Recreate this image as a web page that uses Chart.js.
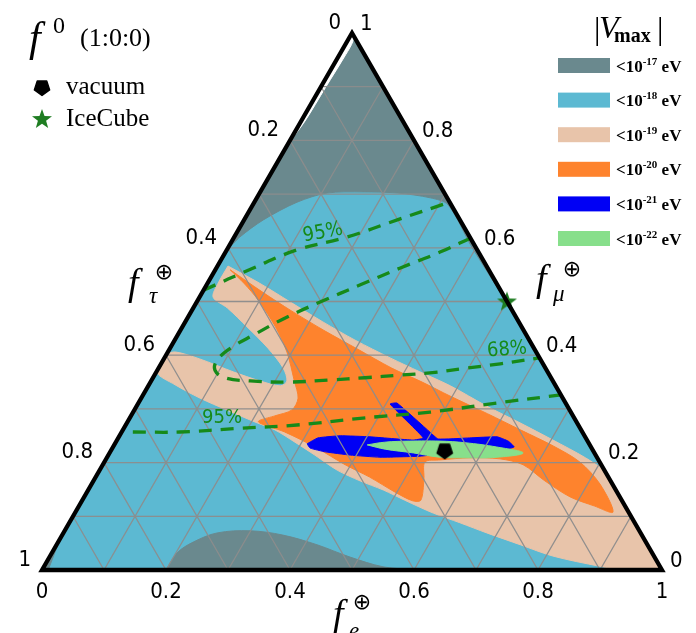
<!DOCTYPE html>
<html><head><meta charset="utf-8">
<script src="https://cdn.jsdelivr.net/npm/chart.js@4.4.1/dist/chart.umd.min.js"></script>
<style>html,body{margin:0;padding:0;background:#fff;}#wrap{width:696px;height:633px;}</style>
</head><body><div id="wrap"><canvas id="c" width="696" height="633"></canvas></div>
<script>
// ---- data: ternary compositions as [f_e, f_mu]  (f_tau = 1 - f_e - f_mu) ----
const tickValues = [0, 0.2, 0.4, 0.6, 0.8, 1];
const gridValues = [0.1, 0.2, 0.3, 0.4, 0.5, 0.6, 0.7, 0.8, 0.9];
const legendExponents = ['-17', '-18', '-19', '-20', '-21', '-22'];
const legendColors = ['#6a898e', '#5cb9d2', '#e8c4aa', '#fe832d', '#0000f5', '#87df8b'];

const triangleRegion = [[0,0],[1,0],[0,1],[0,0]];
const grayTopRegion = [[0,1],[0.25,0.75],[0.503,0.497],[0.393,0.601],[0.315,0.680],[0.280,0.693],[0.222,0.702],[0.166,0.704],[0.109,0.702],[0.069,0.685],[0.031,0.652],[0.009,0.620],[0,0.596],[0,0.8],[0,1]];
const whiteSliver = [[0,1],[0,0.9],[0,0.80],[0.006,0.834],[0.008,0.899],[0.010,0.96],[0.009,0.985],[0,1]];
const grayBottomRegion = [[0.2,0],[0.202,0.032],[0.218,0.052],[0.248,0.069],[0.299,0.073],[0.356,0.065],[0.420,0.047],[0.485,0.024],[0.547,0.006],[0.6,0],[0.4,0],[0.2,0]];
const grayCornerRegion = [[0,0],[0,0.065],[0.004,0.035],[0.01,0],[0,0]];
const peachRegion = [[0.017,0.566],[0.084,0.534],[0.151,0.499],[0.222,0.462],[0.291,0.428],[0.364,0.395],[0.425,0.369],[0.487,0.343],[0.565,0.305],[0.634,0.274],[0.703,0.242],[0.772,0.209],[0.821,0.181],[0.868,0.145],[0.909,0.102],[0.944,0.056],[1,0],[0.940,0],[0.896,0.007],[0.811,0.026],[0.748,0.047],[0.683,0.069],[0.630,0.088],[0.578,0.106],[0.520,0.130],[0.476,0.149],[0.430,0.166],[0.383,0.186],[0.333,0.214],[0.289,0.238],[0.245,0.261],[0.210,0.274],[0.149,0.298],[0.095,0.320],[0.042,0.345],[0,0.369],[0,0.400],[0.012,0.406],[0.058,0.393],[0.124,0.369],[0.176,0.352],[0.213,0.343],[0.219,0.352],[0.201,0.376],[0.158,0.413],[0.104,0.453],[0.055,0.488],[0.022,0.508],[0.017,0.534],[0.017,0.566]];
const orangeRegion = [[0.024,0.559],[0.096,0.518],[0.162,0.482],[0.234,0.445],[0.302,0.412],[0.376,0.376],[0.438,0.350],[0.496,0.324],[0.573,0.291],[0.641,0.261],[0.709,0.231],[0.767,0.201],[0.820,0.160],[0.867,0.108],[0.832,0.119],[0.784,0.136],[0.728,0.166],[0.678,0.196],[0.635,0.207],[0.586,0.209],[0.540,0.205],[0.517,0.201],[0.532,0.168],[0.546,0.130],[0.533,0.129],[0.497,0.145],[0.442,0.173],[0.391,0.196],[0.326,0.229],[0.263,0.257],[0.211,0.276],[0.232,0.287],[0.254,0.298],[0.253,0.320],[0.231,0.352],[0.192,0.406],[0.150,0.453],[0.097,0.503],[0.060,0.533],[0.024,0.559]];
const blueRegion = [[0.310,0.235],[0.322,0.246],[0.356,0.250],[0.405,0.248],[0.477,0.242],[0.492,0.246],[0.407,0.309],[0.417,0.311],[0.497,0.257],[0.517,0.244],[0.567,0.246],[0.610,0.248],[0.632,0.240],[0.647,0.229],[0.627,0.223],[0.564,0.220],[0.504,0.212],[0.440,0.210],[0.390,0.214],[0.347,0.220],[0.319,0.227],[0.310,0.235]];
const greenRegion = [[0.408,0.233],[0.434,0.238],[0.473,0.240],[0.522,0.240],[0.564,0.237],[0.619,0.229],[0.667,0.218],[0.629,0.210],[0.578,0.209],[0.537,0.210],[0.490,0.218],[0.441,0.225],[0.408,0.233]];
const contour95Upper = [[0,0.521],[0.059,0.562],[0.113,0.596],[0.182,0.620],[0.247,0.652],[0.315,0.685]];
const contour68 = [[0.382,0.618],[0.346,0.592],[0.296,0.562],[0.248,0.531],[0.199,0.499],[0.157,0.469],[0.124,0.439],[0.099,0.415],[0.087,0.391],[0.093,0.372],[0.116,0.358],[0.160,0.352],[0.225,0.350],[0.288,0.354],[0.342,0.358],[0.396,0.363],[0.442,0.367],[0.497,0.376],[0.547,0.384],[0.605,0.395]];
const contour95Lower = [[0.018,0.257],[0.094,0.257],[0.187,0.264],[0.276,0.270],[0.376,0.283],[0.479,0.294],[0.578,0.311],[0.674,0.326]];
const vacuumPoint = [0.538, 0.223];
const iceCubePoint = [0.5, 0.5];
const contourLabels = [
  {text:'95%', at:[0.139,0.628], rot:-0.18},
  {text:'95%', at:[0.149,0.283], rot:0},
  {text:'68%', at:[0.545,0.410], rot:-0.08}
];

// ---- helpers ----
const SQ = Math.sqrt(3) / 2;
const toXY = ([fe, fm]) => ({x: fe + fm / 2, y: fm * SQ});
const poly = arr => arr.map(toXY);

const gridData = [];
gridValues.forEach(k => {
  gridData.push(toXY([0, k]), toXY([1 - k, k]), {x: null, y: null});
  gridData.push(toXY([k, 0]), toXY([k, 1 - k]), {x: null, y: null});
  gridData.push(toXY([1 - k, 0]), toXY([0, 1 - k]), {x: null, y: null});
});

function makePentagon() {
  const c = document.createElement('canvas'); c.width = 20; c.height = 20;
  const g = c.getContext('2d'); g.fillStyle = '#000'; g.strokeStyle = '#000'; g.lineWidth = 1.5; g.lineJoin = 'round';
  g.beginPath();
  for (let k = 0; k < 5; k++) { const a = Math.PI / 2 + k * 2 * Math.PI / 5; const x = 10 + 8 * Math.cos(a), y = 10.5 + 8 * Math.sin(a); k ? g.lineTo(x, y) : g.moveTo(x, y); }
  g.closePath(); g.fill(); g.stroke(); return c;
}
function makeStar() {
  const c = document.createElement('canvas'); c.width = 24; c.height = 24;
  const g = c.getContext('2d'); g.fillStyle = '#1f7d22';
  g.beginPath();
  for (let k = 0; k < 10; k++) { const r = k % 2 ? 4.3 : 10.5; const a = -Math.PI / 2 + k * Math.PI / 5; const x = 12 + r * Math.cos(a), y = 12.5 + r * Math.sin(a); k ? g.lineTo(x, y) : g.moveTo(x, y); }
  g.closePath(); g.fill(); return c;
}
const pentIcon = makePentagon();
const starIcon = makeStar();

function region(arr, color, tension) {
  return {data: poly(arr), showLine: true, fill: 'shape', backgroundColor: color, borderColor: color,
          borderWidth: 1, pointRadius: 0, tension: tension};
}
const dashColor = '#168a19';
function contour(arr) {
  return {data: poly(arr), showLine: true, fill: false, borderColor: dashColor, borderWidth: 3.3,
          borderDash: [13, 9], pointRadius: 0, tension: 0.4, borderCapStyle: 'butt'};
}

const datasets = [
  region(triangleRegion, legendColors[1], 0),
  region(grayTopRegion, legendColors[0], 0.3),
  region(whiteSliver, '#ffffff', 0.3),
  region(grayBottomRegion, legendColors[0], 0.35),
  region(grayCornerRegion, legendColors[0], 0),
  region(peachRegion, legendColors[2], 0.3),
  region(orangeRegion, legendColors[3], 0.3),
  region(blueRegion, legendColors[4], 0.12),
  region(greenRegion, legendColors[5], 0.4),
  {data: gridData, showLine: true, fill: false, borderColor: 'rgba(140,140,140,0.95)', borderWidth: 1.3, pointRadius: 0, spanGaps: false},
  contour(contour95Upper),
  contour(contour68),
  contour(contour95Lower),
  {data: [toXY(iceCubePoint)], showLine: false, pointStyle: starIcon, pointRadius: 10, noTriClip: true},
  {data: [toXY(vacuumPoint)], showLine: false, pointStyle: pentIcon, pointRadius: 9, noTriClip: true}
];
datasets.forEach((d, i) => { d.order = datasets.length - i; });

function px(chart, t) {
  const p = toXY(t);
  return {x: chart.scales.x.getPixelForValue(p.x), y: chart.scales.y.getPixelForValue(p.y)};
}
function txt(ctx, s, x, y, font, color, align, base) {
  ctx.font = font; ctx.fillStyle = color || '#000'; ctx.textAlign = align || 'left'; ctx.textBaseline = base || 'alphabetic';
  ctx.fillText(s, x, y);
}
const SERIF = '"Liberation Serif", "DejaVu Serif", serif';
const TICKF = '22px "DejaVu Sans Condensed", "Roboto", sans-serif';
const fmt = v => (v === 0 ? '0' : v === 1 ? '1' : v.toFixed(1));

const ternaryPlugin = {
  id: 'ternary',
  beforeDatasetsDraw(chart) {
    const ctx = chart.ctx; ctx.save();
    const a = px(chart, [0,0]), b = px(chart, [1,0]), c = px(chart, [0,1]);
    ctx.beginPath(); ctx.moveTo(a.x, a.y); ctx.lineTo(b.x, b.y); ctx.lineTo(c.x, c.y); ctx.closePath(); ctx.clip();
    chart.$triClip = true;
  },
  beforeDatasetDraw(chart, args) {
    const ds = chart.data.datasets[args.index];
    if (ds.noTriClip && chart.$triClip) { chart.ctx.restore(); chart.ctx.save(); chart.$triClip = false; }
  },
  afterDatasetsDraw(chart) {
    const ctx = chart.ctx; ctx.restore();
    // contour labels
    contourLabels.forEach(l => {
      const p = px(chart, l.at);
      ctx.save(); ctx.translate(p.x, p.y); ctx.rotate(l.rot);
      txt(ctx, l.text, 0, 0, '20px "DejaVu Sans Condensed", "DejaVu Sans", sans-serif', dashColor, 'center', 'middle');
      ctx.restore();
    });
    // triangle border
    const a = px(chart, [0,0]), b = px(chart, [1,0]), c = px(chart, [0,1]);
    ctx.save(); ctx.strokeStyle = '#000'; ctx.lineWidth = 4.3; ctx.lineJoin = 'miter';
    ctx.beginPath(); ctx.moveTo(a.x, a.y); ctx.lineTo(b.x, b.y); ctx.lineTo(c.x, c.y); ctx.closePath(); ctx.stroke(); ctx.restore();
    // tick labels
    tickValues.forEach(v => {
      const pb = px(chart, [v, 0]);
      txt(ctx, fmt(v), pb.x, 592, TICKF, '#000', 'center', 'middle');
      const pl = px(chart, [0, 1 - v]);
      txt(ctx, fmt(v), pl.x - 11, pl.y - 10, TICKF, '#000', 'right', 'middle');
      const pr = px(chart, [1 - v, v]);
      txt(ctx, fmt(v), pr.x + 8, pr.y - 9, TICKF, '#000', 'left', 'middle');
    });
    // axis titles
    const OPL = '22px "DejaVu Sans", sans-serif';
    txt(ctx, 'f', 128, 295, 'italic 38px ' + SERIF);
    txt(ctx, '\u2295', 164, 273, OPL, '#000', 'center', 'middle');
    txt(ctx, '\u03c4', 149, 303, 'italic 23px ' + SERIF);
    txt(ctx, 'f', 536, 291, 'italic 38px ' + SERIF);
    txt(ctx, '\u2295', 572, 270, OPL, '#000', 'center', 'middle');
    txt(ctx, '\u03bc', 553, 301, 'italic 23px ' + SERIF);
    txt(ctx, 'f', 333, 626, 'italic 38px ' + SERIF);
    txt(ctx, '\u2295', 362, 603, OPL, '#000', 'center', 'middle');
    txt(ctx, 'e', 349, 638, 'italic 23px ' + SERIF);
    // source title
    txt(ctx, 'f', 29, 51, 'italic 42px ' + SERIF);
    txt(ctx, '0', 53, 33, '24px ' + SERIF);
    txt(ctx, '(1:0:0)', 80, 46, '26px ' + SERIF);
    // point legend
    ctx.drawImage(pentIcon, 42 - 10, 87 - 10);
    txt(ctx, 'vacuum', 66, 94, '25px ' + SERIF);
    ctx.drawImage(starIcon, 42 - 12, 119 - 12);
    txt(ctx, 'IceCube', 66, 126, '25px ' + SERIF);
    // |V_max| legend
    txt(ctx, '|', 594, 39, '32px ' + SERIF);
    txt(ctx, 'V', 599, 38, 'italic 32px ' + SERIF);
    txt(ctx, 'max', 614, 42, 'bold 20px ' + SERIF);
    txt(ctx, '|', 657, 39, '32px ' + SERIF);
    legendExponents.forEach((e, i) => {
      const cy = 65.5 + i * 34.6;
      ctx.fillStyle = legendColors[i]; ctx.fillRect(558, cy - 7.5, 52, 15);
      ctx.font = 'bold 17px ' + SERIF; ctx.textAlign = 'left'; ctx.textBaseline = 'alphabetic'; ctx.fillStyle = '#000';
      let x = 616; ctx.fillText('<10', x, cy + 6); x += ctx.measureText('<10').width;
      ctx.font = 'bold 11px ' + SERIF; ctx.fillText(e, x, cy - 1); x += ctx.measureText(e).width;
      ctx.font = 'bold 17px ' + SERIF; ctx.fillText(' eV', x, cy + 6);
    });
  }
};

new Chart(document.getElementById('c'), {
  type: 'scatter',
  data: {datasets},
  options: {
    responsive: false, animation: false, devicePixelRatio: 1, events: [],
    layout: {padding: {left: 42, right: 34, top: 33, bottom: 63}},
    scales: {
      x: {type: 'linear', min: 0, max: 1, display: false},
      y: {type: 'linear', min: 0, max: SQ, display: false}
    },
    plugins: {legend: {display: false}, tooltip: {enabled: false}}
  },
  plugins: [ternaryPlugin]
});
</script></body></html>
